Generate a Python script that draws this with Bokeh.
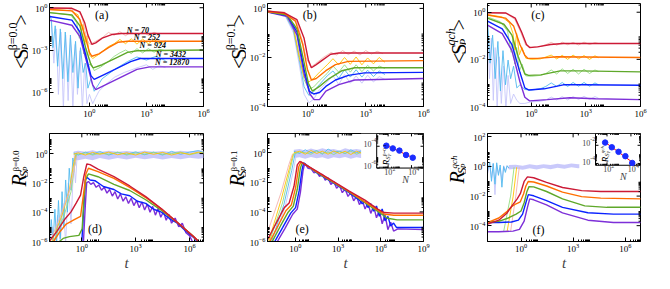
import numpy as np
from bokeh.plotting import figure
from bokeh.models import FixedTicker, LogTickFormatter, Range1d, LogScale, Label
from bokeh.layouts import row, column
from bokeh.embed import file_html
from bokeh.resources import INLINE
from bokeh.core.properties import value

# ---------------- data (log10 t, log10 value) ----------------
N_VALUES = [70, 252, 924, 3432, 12870]
N_LABELS = ["N = 70", "N = 252", "N = 924", "N = 3432", "N = 12870"]

# panel (a)
A_RED_LT = [-2.1, -0.92, -0.5, -0.25, -0.08, 0.13, 0.33, 0.67, 1.17, 1.67, 6.0]
A_RED_LS = [-0.02, -0.04, -0.29, -1.06, -1.94, -2.6, -2.49, -2.16, -1.9, -1.83, -1.83]
A_ORA_LT = [-2.1, -0.92, -0.5, -0.2, 0.0, 0.13, 0.5, 1.0, 1.5, 2.0, 6.0]
A_ORA_LS = [-0.13, -0.22, -0.84, -2.16, -3.16, -3.44, -3.27, -2.83, -2.45, -2.38, -2.38]
A_GRN_LT = [-2.1, -0.92, -0.5, -0.2, 0.08, 0.2, 0.67, 1.33, 2.0, 2.5, 6.0]
A_GRN_LS = [-0.35, -0.51, -1.28, -2.83, -4.04, -4.26, -4.04, -3.6, -3.16, -3.05, -3.0]
A_BLU_LT = [-2.1, -0.92, -0.5, -0.17, 0.08, 0.25, 0.83, 1.5, 2.17, 2.67, 6.0]
A_BLU_LS = [-0.62, -0.88, -1.72, -3.49, -4.81, -5.08, -4.7, -4.26, -3.82, -3.6, -3.6]
A_PUR_LT = [-2.1, -0.92, -0.5, -0.13, 0.17, 0.33, 1.0, 1.67, 2.5, 3.17, 6.0]
A_PUR_LS = [-0.88, -1.24, -2.05, -3.93, -5.47, -5.8, -5.36, -4.92, -4.37, -4.19, -4.19]
A_PINK_LT = [-2.1, -1.2, -0.6, -0.4, -0.25, -0.13, 0.03, 0.3, 0.7, 1.0, 1.3, 1.6, 1.9, 2.2, 2.5, 2.8, 3.1, 3.4, 3.7]
A_PINK_LS = [-0.03, -0.05, -0.25, -0.6, -1.5, -2.3, -2.6, -2.4, -2.1, -1.75, -1.95, -1.7, -1.98, -1.72, -1.95, -1.7, -1.96, -1.74, -1.9]
A_GOLD_LT = [-2.1, -1.0, -0.6, -0.5, -0.42, -0.33, -0.25, -0.13, 0.0, 0.17, 0.5, 1.0, 1.3, 1.6, 1.9, 2.2, 2.5, 2.8, 3.1, 3.4, 3.7, 4.0]
A_GOLD_LS = [-0.13, -0.2, -0.5, -1.0, -1.7, -1.17, -2.6, -2.0, -3.35, -3.6, -3.3, -2.75, -2.55, -2.25, -2.55, -2.2, -2.58, -2.22, -2.56, -2.25, -2.55, -2.35]
A_LGRN_LT = [-2.1, -1.0, -0.67, -0.53, -0.42, -0.3, -0.2, -0.08, 0.08, 0.25, 0.6, 1.0, 1.3, 1.6, 1.9, 2.2, 2.5, 2.8, 3.1, 3.4, 3.7, 4.0]
A_LGRN_LS = [-0.35, -0.5, -1.06, -2.16, -1.72, -3.27, -2.83, -4.15, -3.93, -4.45, -4.2, -3.8, -3.45, -3.2, -3.0, -3.25, -2.9, -3.2, -2.9, -3.15, -2.95, -3.05]
A_SKY_LT = [-2.1, -2.0, -1.92, -1.8, -1.67, -1.53, -1.4, -1.27, -1.13, -1.0, -0.87, -0.73, -0.6, -0.47, -0.33, -0.2, -0.08, 0.08, 0.25, 0.67, 1.33, 2.0, 2.5, 3.0, 3.5, 4.0]
A_SKY_LS = [-0.5, -0.84, -2.83, -1.28, -4.15, -1.5, -5.03, -1.72, -5.25, -1.94, -4.59, -2.38, -5.7, -2.83, -4.59, -3.93, -5.7, -5.03, -5.92, -5.03, -4.37, -3.82, -3.49, -3.71, -3.44, -3.75]
A_LAV_LT = [-2.1, -2.0, -1.87, -1.75, -1.63, -1.5, -1.37, -1.25, -1.12, -1.0, -0.87, -0.75, -0.63, -0.5, -0.37, -0.25, -0.13, 0.0, 0.17, 0.33, 0.5, 0.83, 1.33, 1.83, 2.5, 3.0, 3.33, 3.67, 4.0]
A_LAV_LS = [-0.9, -1.06, -3.93, -1.5, -6.14, -1.72, -7.2, -1.94, -6.58, -2.16, -7.2, -2.6, -6.14, -3.05, -7.2, -3.93, -6.8, -6.14, -6.8, -6.36, -5.92, -5.47, -4.92, -4.59, -4.26, -4.04, -4.37, -4.1, -4.24]

# panel (b)
B_RED_LT = [-2.1, -1.23, -0.57, -0.2, 0.02, 0.18, 0.43, 0.77, 1.18, 1.6, 6.0]
B_RED_LS = [-0.11, -0.18, -0.46, -1.22, -2.1, -2.42, -2.29, -2.1, -1.87, -1.82, -1.82]
B_ORA_LT = [-2.1, -1.23, -0.65, -0.27, -0.03, 0.18, 0.43, 0.93, 1.43, 2.1, 6.0]
B_ORA_LS = [-0.14, -0.2, -0.52, -1.47, -2.48, -2.92, -2.86, -2.54, -2.29, -2.16, -2.13]
B_GRN_LT = [-2.1, -1.07, -0.57, -0.23, 0.02, 0.23, 0.6, 1.1, 1.77, 2.43, 6.0]
B_GRN_LS = [-0.14, -0.27, -0.84, -2.1, -3.05, -3.37, -3.18, -2.86, -2.54, -2.42, -2.42]
B_BLU_LT = [-2.1, -1.07, -0.57, -0.2, 0.07, 0.3, 0.6, 0.93, 1.43, 2.1, 2.93, 6.0]
B_BLU_LS = [-0.14, -0.29, -0.96, -2.48, -3.37, -3.49, -3.43, -3.18, -2.92, -2.73, -2.63, -2.61]
B_PUR_LT = [-2.1, -1.07, -0.57, -0.2, 0.1, 0.32, 0.6, 0.93, 1.6, 2.43, 6.0]
B_PUR_LS = [-0.15, -0.33, -1.09, -2.67, -3.49, -3.72, -3.72, -3.37, -3.11, -2.92, -2.86]
B_PINK_LT = [-2.1, -1.2, -0.6, -0.3, -0.1, 0.15, 0.4, 0.8, 1.2, 1.5, 1.8, 2.1, 2.4, 2.7, 3.0, 3.3, 3.6, 3.9]
B_PINK_LS = [-0.1, -0.16, -0.5, -1.3, -2.0, -2.4, -2.25, -2.0, -1.8, -1.9, -1.72, -1.88, -1.74, -1.9, -1.72, -1.86, -1.75, -1.85]
B_LIGHT_LT = [-2.1, -1.2, -0.75, -0.45, -0.2, 0.05, 0.3, 0.6, 1.0, 1.3, 1.6, 1.9, 2.2, 2.5, 2.8, 3.1, 3.4, 3.7, 4.0]
B_GOLD_LS = [-0.1, -0.2, -0.8, -2.0, -2.8, -3.0, -2.85, -2.6, -2.3, -2.05, -2.3, -2.0, -2.28, -1.98, -2.3, -2.02, -2.26, -2.0, -2.2]
B_LGRN_LS = [-0.1, -0.22, -0.8, -1.9, -2.9, -3.3, -3.2, -2.95, -2.65, -2.35, -2.6, -2.3, -2.6, -2.3, -2.58, -2.32, -2.55, -2.35, -2.45]
B_SKY_LS = [-0.12, -0.25, -0.9, -2.1, -3.2, -3.55, -3.4, -3.1, -2.75, -2.55, -2.85, -2.5, -2.8, -2.5, -2.8, -2.52, -2.78, -2.55, -2.7]
B_LAV_LS = [-0.12, -0.28, -1.0, -2.3, -3.5, -3.85, -3.7, -3.3, -3.0, -2.75, -3.1, -2.7, -3.05, -2.75, -3.05, -2.72, -3.0, -2.78, -2.9]

# panel (c)
C_RED_LT = [-2.4, -1.41, -0.88, -0.53, -0.26, -0.09, 0.35, 1.06, 1.76, 6.0]
C_RED_LS = [-0.02, -0.03, -0.25, -0.84, -1.37, -1.5, -1.47, -1.37, -1.33, -1.33]
C_ORA_LT = [-2.4, -1.41, -0.97, -0.62, -0.35, -0.18, 0.35, 1.41, 6.0]
C_ORA_LS = [-0.12, -0.25, -0.58, -1.37, -1.83, -1.96, -1.96, -1.89, -1.92]
C_GRN_LT = [-2.4, -1.5, -1.06, -0.71, -0.35, -0.14, 0.53, 1.59, 2.65, 6.0]
C_GRN_LS = [-0.25, -0.51, -0.97, -1.89, -2.62, -2.68, -2.66, -2.49, -2.49, -2.53]
C_BLU_LT = [-2.4, -1.59, -1.06, -0.62, -0.35, -0.12, 0.71, 1.76, 2.82, 6.0]
C_BLU_LS = [-0.38, -0.71, -1.37, -2.55, -3.21, -3.3, -3.25, -3.08, -3.08, -3.1]
C_PUR_LT = [-2.4, -1.59, -1.06, -0.62, -0.35, -0.09, 0.88, 2.12, 3.53, 6.0]
C_PUR_LS = [-0.55, -0.91, -1.63, -2.95, -3.61, -3.76, -3.71, -3.63, -3.67, -3.71]
C_PINK_LT = [-2.4, -1.4, -0.9, -0.55, -0.3, 0.0, 0.5, 0.8, 1.1, 1.4, 1.7, 2.0, 2.3, 2.6, 2.9, 3.2, 3.5, 3.7]
C_PINK_LS = [-0.02, -0.04, -0.3, -0.9, -1.4, -1.48, -1.45, -1.38, -1.28, -1.4, -1.27, -1.38, -1.28, -1.39, -1.27, -1.37, -1.29, -1.33]
C_GOLD_LT = [-2.4, -1.6, -1.2, -1.0, -0.9, -0.8, -0.65, -0.5, -0.3, 0.0, 0.5, 0.8, 1.1, 1.4, 1.7, 2.0, 2.3, 2.6, 2.9, 3.2, 3.5, 3.7]
C_GOLD_LS = [-0.1, -0.2, -0.45, -0.9, -1.6, -0.9, -1.8, -1.5, -1.95, -2.0, -1.98, -1.9, -1.82, -1.98, -1.83, -2.0, -1.82, -1.98, -1.84, -2.0, -1.85, -1.93]
C_LGRN_LT = [-2.4, -1.7, -1.3, -1.1, -1.0, -0.9, -0.8, -0.65, -0.5, -0.3, 0.0, 0.5, 0.8, 1.1, 1.4, 1.7, 2.0, 2.3, 2.6, 2.9, 3.2, 3.5, 3.7]
C_LGRN_LS = [-0.2, -0.4, -0.8, -1.7, -1.1, -2.2, -1.5, -2.5, -2.2, -2.7, -2.72, -2.68, -2.6, -2.45, -2.62, -2.4, -2.6, -2.42, -2.62, -2.42, -2.6, -2.45, -2.52]
C_SKY_LT = [-2.4, -2.26, -2.12, -1.98, -1.83, -1.69, -1.55, -1.41, -1.27, -1.13, -0.97, -0.79, -0.62, -0.35, 0.0, 0.5, 0.8, 1.1, 1.4, 1.7, 2.0, 2.3, 2.6, 2.9, 3.2, 3.5, 3.7]
C_SKY_LS = [-0.32, -2.16, -0.97, -2.82, -1.24, -3.34, -1.63, -3.08, -2.03, -2.82, -2.29, -3.21, -3.08, -3.28, -3.3, -3.25, -3.15, -3.0, -3.15, -2.98, -3.15, -2.98, -3.14, -2.98, -3.14, -3.0, -3.08]
C_LAV_LT = [-2.4, -2.29, -2.19, -2.08, -1.98, -1.87, -1.76, -1.64, -1.52, -1.39, -1.27, -1.13, -0.97, -0.79, -0.62, -0.35, 0.0, 0.5, 0.8, 1.1, 1.4, 1.7, 2.0, 2.3, 2.6, 2.9, 3.2, 3.5, 3.7]
C_LAV_LS = [-0.64, -2.82, -1.1, -3.74, -1.5, -4.1, -1.89, -3.87, -2.29, -4.1, -2.68, -3.87, -3.47, -3.74, -3.87, -3.87, -3.8, -3.78, -3.72, -3.6, -3.72, -3.58, -3.72, -3.58, -3.7, -3.57, -3.7, -3.58, -3.65]

# panel (d)
D_RED_LT = [-1.85, -1.4, -0.96, -0.6, -0.3, -0.07, 0.11, 0.28, 0.46, 0.9, 1.79, 2.67, 3.56, 4.44, 5.33, 6.21, 6.6]
D_RED_LS = [-6.05, -5.33, -4.5, -3.98, -3.35, -2.83, -1.58, -0.71, -0.75, -1.06, -1.58, -2.21, -2.94, -3.77, -4.71, -5.65, -6.1]
D_ORA_LT = [-1.6, -1.22, -0.87, -0.42, -0.07, 0.11, 0.23, 0.37, 0.9, 1.79, 2.67, 3.56, 4.44, 5.33, 6.21, 6.6]
D_ORA_LS = [-6.05, -5.33, -4.81, -4.5, -4.29, -2.63, -1.38, -1.0, -1.23, -1.69, -2.31, -3.0, -3.79, -4.71, -5.65, -6.1]
D_GRN_LT = [-1.3, -1.04, -0.69, -0.16, 0.02, 0.12, 0.23, 0.37, 0.9, 1.79, 2.67, 3.56, 4.44, 5.33, 6.21, 6.6]
D_GRN_LS = [-6.05, -5.79, -5.67, -5.58, -5.13, -3.04, -1.69, -1.38, -1.58, -2.1, -2.52, -3.15, -3.88, -4.71, -5.65, -6.1]
D_BLU_LT = [0.0, 0.11, 0.19, 0.3, 0.46, 0.73, 1.2, 1.79, 2.2, 2.67, 3.1, 3.56, 4.0, 4.44, 4.9, 5.33, 5.8, 6.21, 6.5]
D_BLU_LS = [-6.05, -3.67, -1.79, -1.63, -1.8, -1.85, -2.25, -2.45, -2.75, -2.88, -3.25, -3.4, -3.8, -4.0, -4.45, -4.75, -5.3, -5.7, -6.1]
D_PUR_LT = [0.09, 0.19, 0.27, 0.37, 0.5, 0.65, 0.8, 0.95, 1.1, 1.25, 1.4, 1.55, 1.7, 1.85, 2.0, 2.15, 2.3, 2.45, 2.6, 2.75, 2.9,
            3.05, 3.2, 3.35, 3.5, 3.65, 3.8, 3.95, 4.1, 4.25, 4.4, 4.55, 4.7, 4.85, 5.0, 5.2, 5.4, 5.6, 5.8, 6.0, 6.2]
D_PUR_LS = [-6.05, -3.67, -2.0, -1.9, -2.1, -1.98, -2.3, -2.15, -2.5, -2.3, -2.7, -2.45, -2.9, -2.6, -3.1, -2.75, -3.25, -2.95, -3.4, -3.05, -3.55,
            -3.2, -3.7, -3.3, -3.85, -3.45, -4.0, -3.6, -4.2, -3.75, -4.35, -3.95, -4.55, -4.15, -4.75, -4.4, -5.0, -4.75, -5.4, -5.6, -6.1]
D_PINK_LT = [-1.8, -1.2, -0.7, -0.45, -0.3]
D_PINK_LS = [-6.1, -4.3, -2.6, -1.2, -0.2]
D_GOLD_LT = [-1.7, -1.1, -0.7, -0.5, -0.35]
D_GOLD_LS = [-6.1, -4.2, -2.5, -1.0, -0.1]
D_LGRN_LT = [-1.6, -1.0, -0.6, -0.42, -0.3]
D_LGRN_LS = [-6.1, -4.3, -2.6, -1.0, -0.1]
D_SKY_LT = [-1.8, -1.7, -1.6, -1.5, -1.4, -1.3, -1.2, -1.1, -1.0, -0.9, -0.8, -0.7, -0.6, -0.5, -0.4, -0.3]
D_SKY_LS = [-6.1, -4.5, -6.1, -3.8, -6.1, -3.2, -5.8, -2.6, -5.0, -1.8, -4.0, -1.0, -2.5, -0.3, -0.8, 0.05]
D_LAV_LT = [-1.8, -1.65, -1.5, -1.35, -1.2, -1.05, -0.9, -0.75, -0.6, -0.45, -0.35, -0.25]
D_LAV_LS = [-6.1, -5.0, -6.1, -4.2, -6.1, -3.4, -6.1, -2.0, -4.8, -0.6, -2.0, 0.1]
D_BAND_LT = [-0.45, -0.2, 0.2, 0.6, 1.0, 1.5, 2.0, 2.5, 3.0, 3.5, 4.0, 4.5, 5.0, 5.5, 6.0, 6.5, 6.8]
D_BAND_LO = [-0.4, -0.45, -0.35, -0.45, -0.3, -0.42, -0.3, -0.4, -0.28, -0.38, -0.3, -0.4, -0.3, -0.38, -0.28, -0.35, -0.3]
D_BAND_HI = [0.15, 0.2, 0.12, 0.22, 0.1, 0.2, 0.12, 0.18, 0.1, 0.2, 0.12, 0.18, 0.1, 0.2, 0.15, 0.22, 0.18]
D_SKYB_LS = [0.05, -0.1, 0.1, -0.05, 0.15, -0.1, 0.08, -0.05, 0.12, -0.08, 0.1, -0.1, 0.15, -0.05, 0.1, 0.2, 0.05]
D_GOLDB_LS = [-0.05, 0.05, -0.1, 0.08, -0.05, 0.1, -0.08, 0.05, -0.1, 0.1, -0.05, 0.08, -0.1, 0.05, -0.05, 0.1, 0.0]
D_LGRNB_LS = [0.0, -0.05, 0.05, -0.1, 0.02, -0.05, 0.1, -0.1, 0.05, -0.05, 0.08, -0.05, 0.0, 0.1, -0.08, 0.05, 0.1]

# panel (e)
E_RED_LT = [-1.95, -1.33, -0.77, -0.43, -0.09, 0.14, 0.32, 1.49, 3.76, 4.89, 5.79, 6.24, 6.92, 9.0]
E_RED_LS = [-5.88, -4.74, -3.71, -3.4, -2.27, -0.82, -0.58, -1.24, -2.58, -3.2, -3.81, -4.04, -4.08, -4.08]
E_ORA_LT = [-1.79, -1.22, -0.66, -0.27, 0.02, 0.25, 0.41, 1.49, 3.76, 5.79, 6.29, 6.92, 9.0]
E_ORA_LS = [-6.02, -4.95, -3.92, -3.51, -2.37, -0.93, -0.62, -1.28, -2.62, -3.88, -4.16, -4.23, -4.23]
E_GRN_LT = [-1.63, -1.04, -0.5, -0.14, 0.14, 0.36, 0.5, 1.49, 3.76, 5.79, 6.47, 7.15, 9.0]
E_GRN_LS = [-6.02, -4.95, -4.02, -3.61, -2.47, -1.03, -0.66, -1.32, -2.64, -3.96, -4.43, -4.54, -4.54]
E_BLU_LT = [-1.45, -0.88, -0.32, 0.02, 0.27, 0.48, 0.59, 1.49, 3.76, 4.5, 4.7, 4.9, 5.1, 5.3, 5.5, 5.7, 5.9, 6.1, 6.3, 6.5, 6.7, 6.9, 7.1, 7.4, 9.0]
E_BLU_LS = [-6.02, -5.05, -4.08, -3.71, -2.58, -1.13, -0.68, -1.34, -2.68, -3.2, -3.45, -3.3, -3.7, -3.45, -3.95, -3.6, -4.3, -3.8, -4.6, -4.3, -4.95, -4.75, -5.05, -5.05, -5.05]
E_PUR_LT = [-1.27, -0.72, -0.18, 0.14, 0.36, 0.54, 0.66, 0.9, 1.1, 1.3, 1.5, 1.7, 1.9, 2.1, 2.3, 2.5, 2.7, 2.9, 3.1, 3.3, 3.5, 3.7,
            3.9, 4.1, 4.3, 4.5, 4.7, 4.9, 5.1, 5.3, 5.5, 5.7, 5.9, 6.1, 6.3, 6.5, 6.7, 6.9, 7.2, 9.0]
E_PUR_LS = [-6.02, -5.11, -4.16, -3.81, -2.68, -1.24, -0.72, -1.05, -1.08, -1.35, -1.3, -1.6, -1.45, -1.85, -1.7, -2.15, -1.95, -2.4,
            -2.2, -2.7, -2.45, -2.95, -2.7, -3.25, -2.95, -3.5, -3.2, -3.8, -3.4, -4.1, -3.6, -4.4, -3.9, -4.8, -4.2, -5.2, -4.7, -5.3, -5.15, -5.2]
E_PINK_LT = [-1.95, -1.0, -0.45, -0.2]
E_PINK_LS = [-5.4, -2.7, -0.8, -0.1]
E_GOLD_LT = [-1.9, -1.0, -0.4, -0.15]
E_GOLD_LS = [-6.1, -3.2, -1.0, -0.05]
E_LGRN_LT = [-1.85, -0.9, -0.35, -0.1]
E_LGRN_LS = [-6.1, -3.4, -1.1, -0.05]
E_SKY_LT = [-1.7, -0.8, -0.25, 0.0]
E_SKY_LS = [-6.1, -3.5, -1.2, 0.0]
E_LAV_LT = [-1.6, -0.7, -0.15, 0.1]
E_LAV_LS = [-6.1, -3.6, -1.3, 0.0]
E_BAND_LT = [-0.1, 0.3, 0.7, 1.1, 1.5, 1.9, 2.3, 2.7, 3.1, 3.5, 3.9, 4.3, 4.7, 5.1, 5.5, 5.9, 6.3]
E_BAND_LO = [-0.35, -0.3, -0.4, -0.28, -0.38, -0.3, -0.42, -0.3, -0.38, -0.28, -0.4, -0.3, -0.38, -0.3, -0.4, -0.35, -0.4]
E_BAND_HI = [0.2, 0.25, 0.15, 0.28, 0.18, 0.3, 0.2, 0.25, 0.15, 0.3, 0.2, 0.25, 0.18, 0.28, 0.2, 0.25, 0.2]
E_SKYB_LS = [0.1, -0.05, 0.2, 0.0, 0.15, -0.1, 0.25, 0.05, 0.1, -0.05, 0.2, 0.0, 0.15, -0.1, 0.2, 0.05, 0.1]
E_GOLDB_LS = [0.0, 0.1, -0.1, 0.15, -0.05, 0.1, -0.1, 0.12, -0.05, 0.1, -0.12, 0.1, -0.05, 0.15, -0.1, 0.1, 0.0]
E_LGRNB_LS = [-0.1, 0.05, 0.0, -0.1, 0.1, -0.05, 0.05, -0.12, 0.08, -0.05, 0.1, -0.1, 0.05, -0.05, 0.1, -0.08, 0.05]
E_INSET_R_LOG = [-3.95, -4.2, -4.4, -4.8, -5.05]

# panel (f)
F_RED_LT = [-1.93, -1.28, -0.83, -0.46, -0.22, -0.04, 0.18, 0.37, 0.73, 1.47, 2.39, 3.49, 4.59, 6.9]
F_RED_LS = [-3.9, -3.63, -3.18, -2.56, -2.19, -1.84, -1.01, -0.7, -0.76, -1.07, -1.42, -1.63, -1.69, -1.69]
F_ORA_LT = [-1.93, -1.28, -0.83, -0.55, -0.28, -0.04, 0.15, 0.28, 0.42, 0.73, 1.47, 2.39, 3.49, 4.59, 6.9]
F_ORA_LS = [-3.79, -3.48, -3.07, -2.72, -2.52, -2.39, -1.84, -1.32, -1.01, -1.05, -1.32, -1.73, -2.04, -2.14, -2.19]
F_GRN_LT = [-1.93, -1.28, -0.73, -0.28, 0.0, 0.18, 0.33, 0.46, 0.73, 1.47, 2.39, 3.67, 4.95, 6.9]
F_GRN_LS = [-3.75, -3.71, -3.48, -3.22, -3.01, -2.45, -1.73, -1.36, -1.38, -1.69, -2.19, -2.66, -2.76, -2.76]
F_BLU_LT = [-1.93, -1.28, -0.55, -0.15, 0.09, 0.28, 0.42, 0.73, 1.47, 2.39, 3.85, 5.32, 6.9]
F_BLU_LS = [-3.79, -3.79, -3.75, -3.63, -3.22, -2.45, -1.9, -1.98, -2.31, -2.76, -3.13, -3.22, -3.22]
F_PUR_LT = [-1.93, -1.28, -0.46, -0.09, 0.18, 0.37, 0.5, 0.73, 1.47, 2.39, 3.85, 5.32, 6.9]
F_PUR_LS = [-4.41, -4.41, -4.37, -4.25, -3.69, -2.76, -2.19, -2.25, -2.6, -3.13, -3.63, -3.79, -3.79]
F_PINK_LT = [-0.6, -0.3, -0.1]
F_PINK_LS = [-4.4, -2.0, -0.05]
F_GOLD_LT = [-0.8, -0.45, -0.25]
F_GOLD_LS = [-4.4, -2.0, -0.05]
F_LGRN_LT = [-1.0, -0.6, -0.4]
F_LGRN_LS = [-4.4, -2.0, -0.05]
F_SKY_LT = [-1.93, -1.8, -1.7, -1.6, -1.5, -1.4, -1.3, -1.2, -1.1, -1.0, -0.9, -0.8, -0.7]
F_SKY_LS = [-0.3, 0.3, -1.0, 0.2, -1.2, 0.25, -0.6, 0.1, -1.4, 0.0, -0.4, 0.05, -0.1]
F_LAV_LT = [-1.93, -1.8, -1.7, -1.6, -1.5, -1.4, -1.3, -1.2, -1.1, -1.0, -0.9, -0.8, -0.7, -0.6]
F_LAV_LS = [-0.5, 0.1, -0.8, 0.2, -1.9, 0.1, -0.5, -0.1, -0.9, 0.05, -0.3, 0.05, -0.15, 0.0]
F_BAND_LT = [-0.7, -0.3, 0.1, 0.5, 0.9, 1.3, 1.7, 2.1, 2.5, 2.9, 3.3, 3.7, 4.1, 4.5, 4.9, 5.3, 5.7]
F_BAND_LO = [-0.2, -0.15, -0.22, -0.12, -0.2, -0.1, -0.18, -0.08, -0.15, -0.05, -0.12, -0.05, -0.1, 0.0, -0.08, 0.0, -0.05]
F_BAND_HI = [0.1, 0.12, 0.05, 0.15, 0.08, 0.15, 0.1, 0.18, 0.12, 0.2, 0.15, 0.22, 0.18, 0.25, 0.2, 0.25, 0.22]
F_INSET_R_LOG = [-1.7, -2.22, -2.72, -3.2, -3.95]

# ---------------- styling ----------------
SERIF = "Liberation Serif"
DARK = ["#cc1a36", "#ff6f00", "#5fa82a", "#0a22ff", "#7d2fd8"]
LIGHT = ["#f4b2ad", "#ffc400", "#93de82", "#52b9ee", "#c6c6fb"]
LW = [28, 30, 30]          # width of the y-label strip left of each panel
BL = [17, 17, 17]
BR = [13, 13, 14]
FW = [158, 160, 157]
W = [BL[i] + FW[i] + BR[i] for i in range(3)]
H1, BT1, BB1 = 128, 3, 22
H2, BT2, BB2 = 145, 5, 28


def L(a):
    return np.power(10.0, np.asarray(a, dtype=float))


def minors(majors, lo, hi):
    out = []
    for m in majors:
        for k in range(2, 10):
            v = k * 10.0 ** m
            if 10.0 ** lo <= v <= 10.0 ** hi:
                out.append(v)
    return out


def style_axis(ax, ticker):
    ax.ticker = ticker
    ax.formatter = LogTickFormatter()
    ax.axis_line_color = "black"
    ax.major_tick_in = 4
    ax.major_tick_out = 0
    ax.minor_tick_in = 2
    ax.minor_tick_out = 0
    ax.major_tick_line_color = "black"
    ax.minor_tick_line_color = "black"
    ax.major_label_text_font = SERIF
    ax.major_label_text_color = "black"
    ax.major_label_text_font_size = "9px"
    ax.major_label_standoff = 2


def make_panel(xr, yr, xmaj, ymaj, col, top, xlabel=None):
    h, bt, bb = (H1, BT1, BB1) if top else (H2, BT2, BB2)
    p = figure(width=W[col], height=h, x_axis_type="log", y_axis_type="log",
               x_range=Range1d(10.0 ** xr[0], 10.0 ** xr[1]),
               y_range=Range1d(10.0 ** yr[0], 10.0 ** yr[1]),
               output_backend="svg", toolbar_location=None,
               min_border_left=BL[col], min_border_right=BR[col],
               min_border_top=bt, min_border_bottom=bb)
    p.grid.visible = False
    p.outline_line_color = "black"
    p.background_fill_color = "white"
    p.border_fill_color = "white"
    xt = FixedTicker(ticks=[10.0 ** m for m in xmaj], minor_ticks=minors(xmaj, *xr))
    yt = FixedTicker(ticks=[10.0 ** m for m in ymaj], minor_ticks=minors(ymaj, *yr))
    ax_b = p.below[0]
    ax_l = p.left[0]
    style_axis(ax_b, xt)
    style_axis(ax_l, yt)
    if xlabel:
        ax_b.axis_label = xlabel
        ax_b.axis_label_text_font = SERIF
        ax_b.axis_label_text_font_style = "italic"
        ax_b.axis_label_text_font_size = "15px"
        ax_b.axis_label_standoff = 0
    fw = FW[col]
    fh = h - bt - bb
    return p, fw, fh


def mirror_ticks(p, xr, yr, xmaj, ymaj, fw, fh):
    """inward ticks on the top and right frame edges"""
    dx = (xr[1] - xr[0]) / fw
    dy = (yr[1] - yr[0]) / fh
    x0, y0, x1, y1 = [], [], [], []
    for v, ln in [(10.0 ** m, 4) for m in xmaj] + [(v, 2) for v in minors(xmaj, *xr)]:
        x0.append(v); x1.append(v)
        y0.append(10.0 ** yr[1]); y1.append(10.0 ** (yr[1] - ln * dy))
    for v, ln in [(10.0 ** m, 4) for m in ymaj] + [(v, 2) for v in minors(ymaj, *yr)]:
        y0.append(v); y1.append(v)
        x0.append(10.0 ** xr[1]); x1.append(10.0 ** (xr[1] - ln * dx))
    p.segment(x0=x0, y0=y0, x1=x1, y1=y1, line_color="black", line_width=1)


def draw(p, light, dark, band=None):
    if band is not None:
        lt, lo, hi = band
        p.varea(x=L(lt), y1=L(lo), y2=L(hi), fill_color=LIGHT[4], fill_alpha=0.95)
    for lt, ls, c in light:
        p.line(L(lt), L(ls), color=c, line_width=1, line_alpha=0.9)
    for lt, ls, c in dark:
        p.line(L(lt), L(ls), color=c, line_width=1.4)


def rot_text(f, pieces, bx, by, **kw):
    """vertical (bottom-to-top) composite text; along = offset along text, perp = offset above baseline"""
    for text, size, along, perp, fstyle in pieces:
        f.text(x=[bx(-perp)], y=[by(along)], text=[text], angle=np.pi / 2,
               text_font=value(SERIF), text_font_size=value(f"{size}px"),
               text_font_style=fstyle, text_color="black",
               text_align="left", text_baseline="alphabetic", **kw)


def s_pieces(sup, sup_w, sup_style):
    return ([("<", 20, 0, 0, "normal"), ("S", 20, 11.5, 0, "normal"),
             ("P", 11, 23, -4.5, "italic"), (sup, 12, 23, 8, sup_style),
             (">", 20, 24 + sup_w, 0, "normal")], 35.5 + sup_w, 25)


def r_pieces(sup, sup_w, sup_style):
    return ([("R", 20, 0, 0, "italic"), ("S", 13, 12.5, -5, "italic"),
             ("P", 8, 20, -7.5, "italic"), (sup, 9, 20, 3, sup_style)], 20 + sup_w, 27)


def label_strip(col, top, spec, shift):
    h, bt, bb = (H1, BT1, BB1) if top else (H2, BT2, BB2)
    w = LW[col]
    f = figure(width=w, height=h, x_range=Range1d(0, w), y_range=Range1d(0, h),
               x_axis_type=None, y_axis_type=None, output_backend="svg",
               toolbar_location=None, min_border=0)
    f.outline_line_color = None
    f.background_fill_color = "white"
    f.border_fill_color = "white"
    pieces, total, gap = spec
    base_x = w + BL[col] - gap
    y0 = bb + (h - bt - bb) / 2 + shift - total / 2
    rot_text(f, pieces, lambda d: base_x + d, lambda d: y0 + d)
    return f


def text_label(p, lt, ls, text, size, fstyle="normal"):
    p.add_layout(Label(x=10.0 ** lt, y=10.0 ** ls, text=text, text_font=SERIF,
                       text_font_size=f"{size}px", text_font_style=fstyle, text_color="black",
                       text_align="center", text_baseline="middle"))


def add_inset(p, fw, fh, fx0, fy1, bgx0, bgy1, xlo, xhi, ylo, yhi, xmaj, ymaj, rlog, sup, sup_style):
    dpw = (xhi - xlo) / (1.0 - fx0)
    xs = xlo - fx0 * dpw
    dph = (yhi - ylo) / fy1
    ys = ylo - (1.0 - fy1) * dph
    p.extra_x_ranges = {"ins": Range1d(10.0 ** xs, 10.0 ** (xs + dpw))}
    p.extra_y_ranges = {"ins": Range1d(10.0 ** ys, 10.0 ** (ys + dph))}
    p.extra_x_scales = {"ins": LogScale()}
    p.extra_y_scales = {"ins": LogScale()}
    kw = dict(x_range_name="ins", y_range_name="ins")
    p.quad(left=10.0 ** (xs + bgx0 * dpw), right=10.0 ** (xs + dpw),
           bottom=10.0 ** (ys + (1 - bgy1) * dph), top=10.0 ** (ys + dph),
           fill_color="white", line_color=None, **kw)
    dx = dpw / fw
    dy = dph / fh
    x0, y0, x1, y1 = [], [], [], []
    for m in xmaj:
        for yb, sgn in ((ylo, 1), (yhi, -1)):
            x0.append(10.0 ** m); x1.append(10.0 ** m)
            y0.append(10.0 ** yb); y1.append(10.0 ** (yb + sgn * 3 * dy))
    for v in minors(xmaj + [min(xmaj) - 1], xlo, xhi):
        for yb, sgn in ((ylo, 1), (yhi, -1)):
            x0.append(v); x1.append(v)
            y0.append(10.0 ** yb); y1.append(10.0 ** (yb + sgn * 1.5 * dy))
    for m in ymaj:
        for xb, sgn in ((xlo, 1), (xhi, -1)):
            y0.append(10.0 ** m); y1.append(10.0 ** m)
            x0.append(10.0 ** xb); x1.append(10.0 ** (xb + sgn * 3 * dx))
    for v in minors(ymaj + [min(ymaj) - 1], ylo, yhi):
        for xb, sgn in ((xlo, 1), (xhi, -1)):
            y0.append(v); y1.append(v)
            x0.append(10.0 ** xb); x1.append(10.0 ** (xb + sgn * 1.5 * dx))
    p.segment(x0=x0, y0=y0, x1=x1, y1=y1, line_color="black", line_width=1, **kw)
    p.quad(left=10.0 ** xlo, right=10.0 ** xhi, bottom=10.0 ** ylo, top=10.0 ** yhi,
           fill_color=None, line_color="black", line_width=1, **kw)
    lgn = np.log10(np.asarray(N_VALUES, dtype=float))
    coef = np.polyfit(lgn, rlog, 1)
    nf = np.array([lgn[0] - 0.1, lgn[-1] + 0.1])
    p.line(L(nf), L(np.polyval(coef, nf)), color="red", line_width=1, **kw)
    p.scatter(N_VALUES, L(rlog), size=5.5, color="#1a2cff", **kw)
    sxl = (xlo - xs) / dpw * fw
    syb = (ylo - ys) / dph * fh
    for m in xmaj:
        sx = (m - xs) / dpw * fw
        p.add_layout(Label(x=sx + 1, y=syb - 4, x_units="screen", y_units="screen", text="10",
                           text_font=SERIF, text_font_size="8px", text_align="right", text_baseline="top"))
        p.add_layout(Label(x=sx + 1.2, y=syb - 2, x_units="screen", y_units="screen", text=str(m),
                           text_font=SERIF, text_font_size="6px", text_align="left", text_baseline="top"))
    for m in ymaj:
        sy = (m - ys) / dph * fh
        ew = 3.0 * len(str(m))
        p.add_layout(Label(x=sxl - 2 - ew, y=sy - 1, x_units="screen", y_units="screen", text="10",
                           text_font=SERIF, text_font_size="8px", text_align="right", text_baseline="middle"))
        p.add_layout(Label(x=sxl - 2 - ew, y=sy + 3, x_units="screen", y_units="screen", text=str(m),
                           text_font=SERIF, text_font_size="6px", text_align="left", text_baseline="middle"))
    p.add_layout(Label(x=fw - (1.0 - fx0) * fw / 2 + 2, y=syb - 9, x_units="screen", y_units="screen",
                       text="N", text_font=SERIF, text_font_size="10px", text_font_style="italic",
                       text_align="center", text_baseline="top"))
    bxs = sxl + 10
    bys = syb + 3
    rot_text(p, [("R\u0304", 9, 0, 0, "italic"), ("S", 6, 6, -2, "italic"),
                 ("P", 4, 9.5, -3.5, "italic"), (sup, 5, 9.5, 2.5, sup_style)],
             lambda d: 10.0 ** (xs + (bxs + d) * dx), lambda d: 10.0 ** (ys + (bys + d) * dy), **kw)


def series(lts, lss, colors):
    return [(a, b, c) for a, b, c in zip(lts, lss, colors)]


LIGHT_ORDER = [LIGHT[4], LIGHT[3], LIGHT[2], LIGHT[1], LIGHT[0]]
DARK_ORDER = [DARK[4], DARK[3], DARK[2], DARK[1], DARK[0]]

XR_A, YR_A = (-2.1, 6.0), (-7.0, 0.3)
XM_A, YM_A = [0, 3, 6], [0, -3, -6]
pa, fwa, fha = make_panel(XR_A, YR_A, XM_A, YM_A, 0, True)
draw(pa, series([A_LAV_LT, A_SKY_LT, A_LGRN_LT, A_GOLD_LT, A_PINK_LT],
                [A_LAV_LS, A_SKY_LS, A_LGRN_LS, A_GOLD_LS, A_PINK_LS], LIGHT_ORDER),
     series([A_PUR_LT, A_BLU_LT, A_GRN_LT, A_ORA_LT, A_RED_LT],
            [A_PUR_LS, A_BLU_LS, A_GRN_LS, A_ORA_LS, A_RED_LS], DARK_ORDER))
mirror_ticks(pa, XR_A, YR_A, XM_A, YM_A, fwa, fha)
for (lt, ls), txt in zip([(2.55, -1.6), (3.02, -2.1), (3.33, -2.69), (4.28, -3.29), (4.35, -3.89)], N_LABELS):
    text_label(pa, lt, ls, txt, 8, "bold italic")
text_label(pa, 0.65, -0.51, "(a)", 12)
la = label_strip(0, True, s_pieces("\u03b2=0.0", 30, "normal"), 6)

XR_B, YR_B = (-2.1, 6.0), (-4.0, 0.2)
XM_B, YM_B = [0, 3, 6], [0, -2, -4]
pb, fwb, fhb = make_panel(XR_B, YR_B, XM_B, YM_B, 1, True)
draw(pb, series([B_LIGHT_LT, B_LIGHT_LT, B_LIGHT_LT, B_LIGHT_LT, B_PINK_LT],
                [B_LAV_LS, B_SKY_LS, B_LGRN_LS, B_GOLD_LS, B_PINK_LS], LIGHT_ORDER),
     series([B_PUR_LT, B_BLU_LT, B_GRN_LT, B_ORA_LT, B_RED_LT],
            [B_PUR_LS, B_BLU_LS, B_GRN_LS, B_ORA_LS, B_RED_LS], DARK_ORDER))
mirror_ticks(pb, XR_B, YR_B, XM_B, YM_B, fwb, fhb)
text_label(pb, 0.1, -0.27, "(b)", 12)
lb = label_strip(1, True, s_pieces("\u03b2=0.1", 30, "normal"), 6)

XR_C, YR_C = (-2.4, 6.0), (-4.0, 0.37)
XM_C, YM_C = [0, 3, 6], [0, -2, -4]
pc, fwc, fhc = make_panel(XR_C, YR_C, XM_C, YM_C, 2, True)
draw(pc, series([C_LAV_LT, C_SKY_LT, C_LGRN_LT, C_GOLD_LT, C_PINK_LT],
                [C_LAV_LS, C_SKY_LS, C_LGRN_LS, C_GOLD_LS, C_PINK_LS], LIGHT_ORDER),
     series([C_PUR_LT, C_BLU_LT, C_GRN_LT, C_ORA_LT, C_RED_LT],
            [C_PUR_LS, C_BLU_LS, C_GRN_LS, C_ORA_LS, C_RED_LS], DARK_ORDER))
mirror_ticks(pc, XR_C, YR_C, XM_C, YM_C, fwc, fhc)
text_label(pc, 0.37, -0.12, "(c)", 12)
lc = label_strip(2, True, s_pieces("qch", 18, "italic"), 6)

XR_D, YR_D = (-1.8, 6.78), (-6.0, 1.37)
XM_D, YM_D = [0, 3, 6], [0, -2, -4, -6]
pd, fwd, fhd = make_panel(XR_D, YR_D, XM_D, YM_D, 0, False, "t")
draw(pd, series([D_LAV_LT, D_SKY_LT, D_LGRN_LT, D_GOLD_LT, D_PINK_LT, D_BAND_LT, D_BAND_LT, D_BAND_LT],
                [D_LAV_LS, D_SKY_LS, D_LGRN_LS, D_GOLD_LS, D_PINK_LS, D_SKYB_LS, D_LGRNB_LS, D_GOLDB_LS],
                LIGHT_ORDER + [LIGHT[3], LIGHT[2], LIGHT[1]]),
     series([D_PUR_LT, D_BLU_LT, D_GRN_LT, D_ORA_LT, D_RED_LT],
            [D_PUR_LS, D_BLU_LS, D_GRN_LS, D_ORA_LS, D_RED_LS], DARK_ORDER),
     band=(D_BAND_LT, D_BAND_LO, D_BAND_HI))
mirror_ticks(pd, XR_D, YR_D, XM_D, YM_D, fwd, fhd)
text_label(pd, 0.74, -5.15, "(d)", 12)
ld = label_strip(0, False, r_pieces("\u03b2=0.0", 22, "normal"), 11)

XR_E, YR_E = (-1.95, 9.0), (-6.0, 1.3)
XM_E, YM_E = [0, 3, 6, 9], [0, -2, -4, -6]
pe, fwe, fhe = make_panel(XR_E, YR_E, XM_E, YM_E, 1, False, "t")
draw(pe, series([E_LAV_LT, E_SKY_LT, E_LGRN_LT, E_GOLD_LT, E_PINK_LT, E_BAND_LT, E_BAND_LT, E_BAND_LT],
                [E_LAV_LS, E_SKY_LS, E_LGRN_LS, E_GOLD_LS, E_PINK_LS, E_SKYB_LS, E_LGRNB_LS, E_GOLDB_LS],
                LIGHT_ORDER + [LIGHT[3], LIGHT[2], LIGHT[1]]),
     series([E_PUR_LT, E_BLU_LT, E_GRN_LT, E_ORA_LT, E_RED_LT],
            [E_PUR_LS, E_BLU_LS, E_GRN_LS, E_ORA_LS, E_RED_LS], DARK_ORDER),
     band=(E_BAND_LT, E_BAND_LO, E_BAND_HI))
mirror_ticks(pe, XR_E, YR_E, XM_E, YM_E, fwe, fhe)
text_label(pe, 0.48, -5.18, "(e)", 12)
le = label_strip(1, False, r_pieces("\u03b2=0.1", 22, "normal"), 11)
add_inset(pe, fwe, fhe, 0.70, 0.32, 0.60, 0.45, 1.02, 5.03, -6.0, -2.83, [2, 4], [-4, -6],
          E_INSET_R_LOG, "\u03b2=0.1", "normal")

XR_F, YR_F = (-1.93, 6.88), (-5.07, 2.23)
XM_F, YM_F = [0, 3, 6], [2, 0, -2, -4]
pf, fwf, fhf = make_panel(XR_F, YR_F, XM_F, YM_F, 2, False, "t")
draw(pf, series([F_LAV_LT, F_SKY_LT, F_LGRN_LT, F_GOLD_LT, F_PINK_LT],
                [F_LAV_LS, F_SKY_LS, F_LGRN_LS, F_GOLD_LS, F_PINK_LS], LIGHT_ORDER),
     series([F_PUR_LT, F_BLU_LT, F_GRN_LT, F_ORA_LT, F_RED_LT],
            [F_PUR_LS, F_BLU_LS, F_GRN_LS, F_ORA_LS, F_RED_LS], DARK_ORDER),
     band=(F_BAND_LT, F_BAND_LO, F_BAND_HI))
mirror_ticks(pf, XR_F, YR_F, XM_F, YM_F, fwf, fhf)
text_label(pf, 1.0, -4.29, "(f)", 12)
lf = label_strip(2, False, r_pieces("qch", 14, "italic"), 11)
add_inset(pf, fwf, fhf, 0.706, 0.294, 0.60, 0.445, 1.04, 4.8, -4.2, -0.7, [2, 4], [-2, -4],
          F_INSET_R_LOG, "qch", "italic")

layout = column(row(la, pa, lb, pb, lc, pc), row(ld, pd, le, pe, lf, pf))
open("out.html", "w").write(file_html(layout, INLINE))
